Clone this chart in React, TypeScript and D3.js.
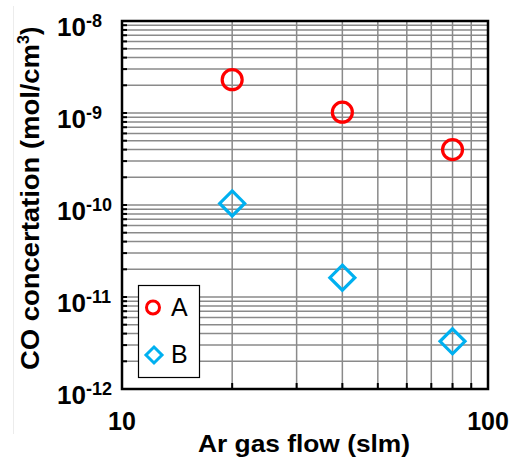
import React, { useEffect, useRef } from 'react'
import * as d3 from 'd3'

const flows = [20, 40, 80]
const seriesA = [2.3e-9, 1.02e-9, 4.0e-10]
const seriesB = [1.04e-10, 1.62e-11, 3.3e-12]
const seriesNames = ['A', 'B']
const yDecades = [-12, -11, -10, -9, -8]
const xTickLabels = [10, 100]

export default function App() {
  const ref = useRef<SVGSVGElement>(null)

  useEffect(() => {
    const svg = d3.select(ref.current)
    svg.selectAll('*').remove()
    const font = '"Liberation Sans", Arial, sans-serif'
    const margin = { left: 122, top: 21, right: 23, bottom: 69 }
    const W = 511, H = 458
    const width = W - margin.left - margin.right
    const height = H - margin.top - margin.bottom

    const x = d3.scaleLog().domain([10, 100]).range([0, width])
    const y = d3.scaleLog().domain([1e-12, 1e-8]).range([height, 0])

    // faint stray line at left
    svg.append('line').attr('x1', 13.5).attr('x2', 13.5).attr('y1', 6).attr('y2', 434)
      .attr('stroke', '#ececec').attr('stroke-width', 1)

    const g = svg.append('g').attr('transform', `translate(${margin.left},${margin.top})`)

    // grid values
    const xGrid = d3.range(2, 10).map((d) => d * 10)
    const yGrid: number[] = []
    yDecades.slice(0, -1).forEach((e) => {
      for (let m = 1; m < 10; m++) yGrid.push(m * Math.pow(10, e))
    })
    const yInner = yGrid.filter((v) => v > 1e-12)

    g.append('g').selectAll('line').data(yInner).enter().append('line')
      .attr('x1', 0).attr('x2', width)
      .attr('y1', (d) => y(d)).attr('y2', (d) => y(d))
      .attr('stroke', '#8a8a8a').attr('stroke-width', 1.5)
    g.append('g').selectAll('line').data(xGrid).enter().append('line')
      .attr('y1', 0).attr('y2', height)
      .attr('x1', (d) => x(d)).attr('x2', (d) => x(d))
      .attr('stroke', '#8a8a8a').attr('stroke-width', 1.5)

    // inward ticks
    g.append('g').selectAll('line').data(yInner).enter().append('line')
      .attr('x1', 0).attr('x2', 5)
      .attr('y1', (d) => y(d)).attr('y2', (d) => y(d))
      .attr('stroke', '#000').attr('stroke-width', 2)
    g.append('g').selectAll('line').data(xGrid).enter().append('line')
      .attr('y1', height).attr('y2', height - 6)
      .attr('x1', (d) => x(d)).attr('x2', (d) => x(d))
      .attr('stroke', '#000').attr('stroke-width', 2)

    // frame
    g.append('rect').attr('width', width).attr('height', height)
      .attr('fill', 'none').attr('stroke', '#000').attr('stroke-width', 2.5)

    // y tick labels (left aligned)
    yDecades.forEach((e) => {
      const t = svg.append('text')
        .attr('x', 57).attr('y', margin.top + y(Math.pow(10, e)) + 15)
        .attr('font-family', font).attr('font-weight', 'bold')
        .attr('font-size', 26).attr('fill', '#000')
      t.append('tspan').text('10')
      t.append('tspan').attr('font-size', 18).attr('dy', -9).text(`-${-e}`)
    })

    // x tick labels
    xTickLabels.forEach((v) => {
      svg.append('text')
        .attr('x', margin.left + x(v)).attr('y', 430)
        .attr('text-anchor', 'middle').attr('font-family', font).attr('font-weight', 'bold')
        .attr('font-size', 25).attr('fill', '#000').text(v)
    })

    // axis titles
    svg.append('text').attr('x', 198).attr('y', 452)
      .attr('font-family', font).attr('font-weight', 'bold')
      .attr('textLength', 212).attr('lengthAdjust', 'spacingAndGlyphs')
      .attr('font-size', 24).attr('fill', '#000').text('Ar gas flow (slm)')
    const yt = svg.append('text').attr('transform', 'translate(39,370) rotate(-90)')
      .attr('font-family', font).attr('font-weight', 'bold')
      .attr('font-size', 25).attr('fill', '#000')
    yt.append('tspan').attr('textLength', 326).attr('lengthAdjust', 'spacingAndGlyphs')
      .text('CO concertation (mol/cm')
    yt.append('tspan').attr('font-size', 16).attr('dy', -10).text('3')
    yt.append('tspan').attr('dy', 10).text(')')

    // data markers
    const red = '#ff0000', blue = '#00b0f0'
    g.append('g').selectAll('circle').data(flows.map((f, i) => [f, seriesA[i]])).enter()
      .append('circle').attr('cx', (d) => x(d[0])).attr('cy', (d) => y(d[1])).attr('r', 10)
      .attr('fill', 'none').attr('stroke', red).attr('stroke-width', 3.2)
    const diamond = (s: number) => `M0,${-s}L${s},0L0,${s}L${-s},0Z`
    g.append('g').selectAll('path').data(flows.map((f, i) => [f, seriesB[i]])).enter()
      .append('path').attr('d', diamond(12.5))
      .attr('transform', (d) => `translate(${x(d[0])},${y(d[1])})`)
      .attr('fill', 'none').attr('stroke', blue).attr('stroke-width', 3.2)

    // legend
    const lg = svg.append('g')
    lg.append('rect').attr('x', 138.5).attr('y', 285.5).attr('width', 61).attr('height', 92)
      .attr('fill', '#fff').attr('stroke', '#000').attr('stroke-width', 1.2)
    lg.append('circle').attr('cx', 153).attr('cy', 307.5).attr('r', 6.5)
      .attr('fill', 'none').attr('stroke', red).attr('stroke-width', 3)
    lg.append('path').attr('d', diamond(8)).attr('transform', 'translate(154,355)')
      .attr('fill', 'none').attr('stroke', blue).attr('stroke-width', 3)
    seriesNames.forEach((n, i) => {
      lg.append('text').attr('x', 171).attr('y', 316 + i * 47)
        .attr('font-family', font).attr('font-size', 25).attr('fill', '#000').text(n)
    })
  }, [])

  return <svg ref={ref} width={511} height={458} style={{ position: 'absolute', left: 0, top: 0 }} />
}
